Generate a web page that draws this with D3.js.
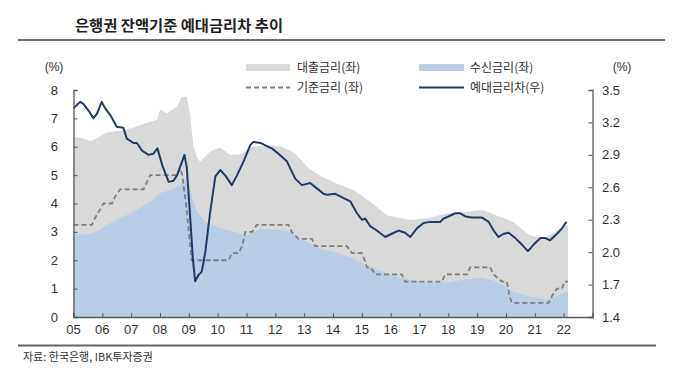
<meta charset="utf-8">
<body style="margin:0;background:#fff">
<div id="chart"></div>
</body>
<script src="https://cdn.jsdelivr.net/npm/d3@7"></script>
<script>
// 대출금리 (좌) - decimal year, %
var loanDates = [2005.0, 2005.3, 2005.6, 2005.7, 2006.15, 2006.62, 2007.1, 2007.31, 2007.66, 2007.9,
  2008.0, 2008.24, 2008.59, 2008.76, 2008.93, 2009.05, 2009.16, 2009.28, 2009.39, 2009.74,
  2010.09, 2010.43, 2010.78, 2011.2, 2011.77, 2012.23, 2012.69, 2013.15, 2013.6, 2014.25,
  2014.71, 2015.29, 2015.87, 2016.68, 2017.26, 2017.95, 2018.64, 2019.2, 2019.66, 2020.24,
  2020.81, 2021.28, 2021.74, 2022.15];
var loanRate = [6.35, 6.3, 6.2, 6.24, 6.5, 6.57, 6.68, 6.77, 6.88, 6.95,
  7.3, 7.18, 7.42, 7.76, 7.76, 7.06, 6.0, 5.65, 5.47, 5.83,
  5.97, 5.71, 5.73, 6.0, 6.06, 6.0, 5.77, 5.24, 4.95, 4.65,
  4.48, 4.06, 3.59, 3.42, 3.48, 3.65, 3.71, 3.77, 3.59, 3.36,
  2.89, 2.77, 3.01, 3.24];

// 수신금리 (좌)
var depDates = [2005.0, 2005.46, 2005.8, 2006.27, 2006.73, 2007.2, 2007.66, 2008.0, 2008.35, 2008.7,
  2008.85, 2009.05, 2009.28, 2009.63, 2009.97, 2010.55, 2011.0, 2011.48, 2012.05, 2012.52,
  2012.86, 2013.44, 2013.6, 2014.14, 2014.71, 2015.29, 2015.87, 2016.45, 2017.03, 2017.95,
  2018.6, 2019.1, 2019.66, 2020.24, 2020.81, 2021.39, 2021.85, 2022.15];
var depRate = [2.95, 2.89, 3.01, 3.30, 3.53, 3.77, 4.06, 4.36, 4.48, 4.65,
  4.88, 4.4, 3.71, 3.30, 3.18, 3.01, 2.86, 3.10, 3.08, 3.01,
  2.77, 2.48, 2.40, 2.26, 2.07, 1.77, 1.54, 1.36, 1.24, 1.22,
  1.32, 1.39, 1.26, 0.89, 0.72, 0.60, 0.78, 0.92];

// 기준금리 (좌)
var baseDates = [2005.0, 2005.64, 2005.75, 2005.9, 2006.04, 2006.33, 2006.45, 2006.62, 2007.43, 2007.55,
  2007.66, 2008.59, 2008.7, 2008.77, 2008.9, 2009.0, 2009.1, 2010.38, 2010.5, 2010.72,
  2010.85, 2010.96, 2011.2, 2011.36, 2012.46, 2012.57, 2012.8, 2013.27, 2013.38, 2014.48,
  2014.66, 2015.0, 2015.1, 2015.18, 2015.3, 2015.47, 2016.39, 2016.5, 2017.78, 2017.89,
  2018.65, 2018.76, 2019.45, 2019.57, 2019.86, 2020.03, 2020.12, 2020.2, 2021.48, 2021.6,
  2021.77, 2021.94, 2022.03, 2022.15];
var baseRate = [3.25, 3.25, 3.5, 3.75, 4.0, 4.0, 4.25, 4.5, 4.5, 4.75,
  5.0, 5.0, 5.25, 5.0, 4.0, 3.0, 2.0, 2.0, 2.25, 2.25,
  2.5, 3.0, 3.0, 3.25, 3.25, 3.0, 2.75, 2.75, 2.5, 2.5,
  2.25, 2.25, 2.0, 1.75, 1.75, 1.5, 1.5, 1.25, 1.25, 1.5,
  1.5, 1.75, 1.75, 1.5, 1.25, 1.25, 0.75, 0.5, 0.5, 0.75,
  1.0, 1.0, 1.25, 1.25];

// 예대금리차 (우)
var spreadDates = [2005.0, 2005.23, 2005.35, 2005.52, 2005.69, 2005.81, 2005.98, 2006.1, 2006.27, 2006.5,
  2006.73, 2006.85, 2007.08, 2007.2, 2007.37, 2007.6, 2007.77, 2007.91, 2008.07, 2008.3,
  2008.47, 2008.59, 2008.85, 2008.93, 2009.05, 2009.14, 2009.22, 2009.34, 2009.45, 2009.57,
  2009.74, 2009.92, 2010.09, 2010.26, 2010.49, 2010.67, 2010.9, 2011.13, 2011.24, 2011.48,
  2011.71, 2011.88, 2012.11, 2012.4, 2012.69, 2012.92, 2013.21, 2013.44, 2013.67, 2013.79,
  2014.08, 2014.37, 2014.6, 2014.83, 2015.0, 2015.12, 2015.29, 2015.52, 2015.81, 2016.04,
  2016.27, 2016.5, 2016.68, 2016.91, 2017.14, 2017.37, 2017.55, 2017.72, 2017.83, 2018.0,
  2018.24, 2018.41, 2018.59, 2018.82, 2019.17, 2019.4, 2019.57, 2019.74, 2019.92, 2020.09,
  2020.32, 2020.55, 2020.76, 2020.96, 2021.19, 2021.36, 2021.53, 2021.77, 2021.94, 2022.1];
var spread = [3.33, 3.39, 3.37, 3.31, 3.24, 3.28, 3.39, 3.33, 3.27, 3.16,
  3.15, 3.05, 3.01, 3.01, 2.94, 2.90, 2.91, 2.96, 2.81, 2.65,
  2.66, 2.71, 2.90, 2.78, 2.31, 1.94, 1.73, 1.79, 1.82, 2.0,
  2.37, 2.70, 2.76, 2.71, 2.62, 2.71, 2.84, 2.99, 3.02, 3.01,
  2.98, 2.96, 2.91, 2.84, 2.68, 2.62, 2.64, 2.59, 2.54, 2.53,
  2.54, 2.50, 2.47, 2.36, 2.30, 2.31, 2.24, 2.20, 2.14, 2.17,
  2.20, 2.18, 2.14, 2.22, 2.27, 2.28, 2.28, 2.28, 2.31, 2.33,
  2.36, 2.36, 2.33, 2.32, 2.32, 2.28, 2.20, 2.14, 2.17, 2.18,
  2.13, 2.07, 2.01, 2.07, 2.13, 2.13, 2.11, 2.17, 2.22, 2.28];

var years = d3.range(2005, 2024);
var leftTicks = [0, 1, 2, 3, 4, 5, 6, 7, 8];
var rightTicks = [1.4, 1.7, 2.0, 2.3, 2.6, 2.9, 3.2, 3.5];

var W = 680, H = 378;
var font = "'Liberation Sans', Arial, sans-serif";
var kfont = "'Noto Sans CJK KR', sans-serif";

var svg = d3.select("#chart").append("svg")
  .attr("width", W).attr("height", H)
  .style("display", "block");

var x = d3.scaleLinear().domain([2005, 2023]).range([73.5, 592.5]);
var yL = d3.scaleLinear().domain([0, 8]).range([317, 90]);
var yR = d3.scaleLinear().domain([1.4, 3.5]).range([317, 90]);

function zip(a, b) { return a.map(function(d, i) { return [d, b[i]]; }); }

// areas
var area = d3.area()
  .x(function(d) { return x(d[0]); })
  .y0(yL(0))
  .y1(function(d) { return yL(d[1]); });

svg.append("path").datum(zip(loanDates, loanRate))
  .attr("d", area).attr("fill", "#d9d9d9");
svg.append("path").datum(zip(depDates, depRate))
  .attr("d", area).attr("fill", "#b9cde5");

// base rate dashed
svg.append("path").datum(zip(baseDates, baseRate))
  .attr("d", d3.line().x(function(d) { return x(d[0]); }).y(function(d) { return yL(d[1]); }))
  .attr("fill", "none").attr("stroke", "#808080")
  .attr("stroke-width", 1.8).attr("stroke-dasharray", "5,3");

// spread line (right axis)
svg.append("path").datum(zip(spreadDates, spread))
  .attr("d", d3.line().x(function(d) { return x(d[0]); }).y(function(d) { return yR(d[1]); }))
  .attr("fill", "none").attr("stroke", "#1f3b66")
  .attr("stroke-width", 2).attr("stroke-linejoin", "round");

// axes
var axisColor = "#595959";
var gL = svg.append("g").attr("transform", "translate(" + x.range()[0] + ",0)")
  .call(d3.axisRight(yL).tickValues(leftTicks).tickSize(4).tickFormat(""));
var gR = svg.append("g").attr("transform", "translate(" + x.range()[1] + ",0)")
  .call(d3.axisLeft(yR).tickValues(rightTicks).tickSize(4).tickFormat(""));
var gX = svg.append("g").attr("transform", "translate(0," + yL(0) + ")")
  .call(d3.axisTop(x).tickValues(years).tickSize(4).tickFormat(""));
[gL, gR, gX].forEach(function(g) {
  g.selectAll("path").attr("stroke", axisColor).attr("stroke-width", 1.3);
  g.selectAll("line").attr("stroke", axisColor);
});

svg.append("g").selectAll("text").data(leftTicks).enter().append("text")
  .attr("x", 58).attr("y", function(d) { return yL(d) + 4.5; })
  .attr("text-anchor", "end").attr("font-family", font).attr("font-size", 13)
  .attr("fill", "#333").text(function(d) { return d; });

svg.append("g").selectAll("text").data(rightTicks).enter().append("text")
  .attr("x", 602).attr("y", function(d) { return yR(d) + 4.5; })
  .attr("font-family", font).attr("font-size", 13)
  .attr("fill", "#333").text(d3.format(".1f"));

svg.append("g").selectAll("text").data(years.slice(0, -1)).enter().append("text")
  .attr("x", function(d) { return x(d); }).attr("y", 334)
  .attr("text-anchor", "middle").attr("font-family", font).attr("font-size", 13)
  .attr("fill", "#333").text(function(d) { return String(d).slice(2); });

svg.append("text").attr("x", 54).attr("y", 71).attr("text-anchor", "middle")
  .attr("font-family", font).attr("font-size", 12).attr("fill", "#333").text("(%)");
svg.append("text").attr("x", 622).attr("y", 71).attr("text-anchor", "middle")
  .attr("font-family", font).attr("font-size", 12).attr("fill", "#333").text("(%)");

// legend
var leg = svg.append("g").attr("font-family", kfont).attr("font-size", 12).attr("fill", "#333");
leg.append("rect").attr("x", 246).attr("y", 64).attr("width", 44).attr("height", 7).attr("fill", "#d9d9d9");
leg.append("text").attr("x", 297).attr("y", 72).text("대출금리(좌)");
leg.append("rect").attr("x", 419).attr("y", 64).attr("width", 45).attr("height", 7).attr("fill", "#b9cde5");
leg.append("text").attr("x", 470).attr("y", 72).text("수신금리(좌)");
leg.append("line").attr("x1", 246).attr("x2", 290).attr("y1", 87.5).attr("y2", 87.5)
  .attr("stroke", "#808080").attr("stroke-width", 1.8).attr("stroke-dasharray", "5,3");
leg.append("text").attr("x", 297).attr("y", 92).text("기준금리 (좌)");
leg.append("line").attr("x1", 419).attr("x2", 464).attr("y1", 87.5).attr("y2", 87.5)
  .attr("stroke", "#1f3b66").attr("stroke-width", 2);
leg.append("text").attr("x", 470).attr("y", 92).text("예대금리차(우)");

// title and frame lines
svg.append("text").attr("x", 75).attr("y", 31)
  .attr("font-family", kfont).attr("font-size", 15).attr("font-weight", 700)
  .attr("fill", "#222").attr("textLength", 208).attr("lengthAdjust", "spacingAndGlyphs")
  .text("은행권 잔액기준 예대금리차 추이");
svg.append("line").attr("x1", 18).attr("x2", 665).attr("y1", 40).attr("y2", 40)
  .attr("stroke", "#404040").attr("stroke-width", 1.5);
svg.append("line").attr("x1", 18).attr("x2", 656).attr("y1", 345.5).attr("y2", 345.5)
  .attr("stroke", "#666").attr("stroke-width", 2);
svg.append("text").attr("x", 23).attr("y", 361)
  .attr("font-family", kfont).attr("font-size", 11).attr("fill", "#333")
  .text("자료: 한국은행, IBK투자증권");
</script>
